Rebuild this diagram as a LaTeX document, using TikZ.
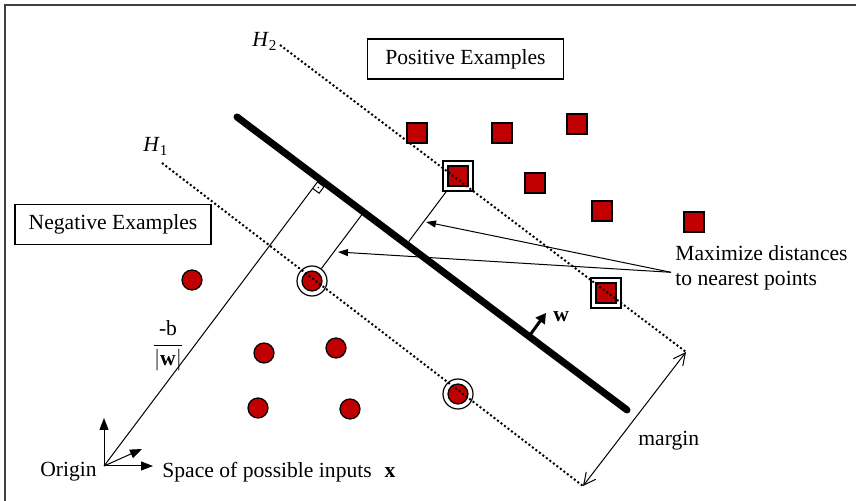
\documentclass[tikz,border=0pt]{standalone}
\usepackage{fontspec}
\setmainfont{Liberation Serif}
\usetikzlibrary{arrows.meta}
\definecolor{ptred}{RGB}{192,0,0}
\begin{document}
\begin{tikzpicture}[x=0.5pt,y=-0.5pt,font=\fontsize{10.8}{12.5}\selectfont,
  possq/.style={draw,fill=ptred,minimum size=10pt,inner sep=0pt,line width=0.6pt},
  negdot/.style={draw,fill=ptred,circle,minimum size=10pt,inner sep=0pt,line width=0.6pt},
  svsq/.style={draw,fill=white,minimum size=15pt,inner sep=0pt,line width=0.6pt},
  svdot/.style={draw,fill=white,circle,minimum size=15pt,inner sep=0pt,line width=0.6pt},
  exbox/.style={draw,line width=0.6pt,minimum width=98pt,minimum height=20pt},
  lab/.style={inner sep=0pt,anchor=base west},
  conn/.style={line width=0.5pt},
  hdots/.style={line width=1pt,dash pattern=on 1pt off 1.2pt},
  tri/.style={conn,-{Triangle[length=6pt,width=4.5pt]}}]
\useasboundingbox (0,0) rectangle (856,501);
\draw[line width=1pt,black!75] (5,501) -- (5,5) -- (856,5);
\node[exbox] (posbox) at (465.5,59) {Positive Examples};
\node[exbox] (negbox) at (113,224.5) {Negative Examples};
\node[lab] (h2lab) at (252,47) {\textit{H}\textsubscript{2}};
\node[lab] (h1lab) at (143,152) {\textit{H}\textsubscript{1}};
\coordinate (hp1) at (237,117);
\coordinate (hp2) at (627,410);
\coordinate (h2s) at (280,45);
\coordinate (h2e) at (686,352);
\coordinate (h1s) at (162,163);
\coordinate (h1e) at (583,486);
\draw[line width=3.5pt,line cap=round] (hp1) -- (hp2);
\foreach \px/\py [count=\i] in {417/133,502/133,577/124,535/183,602/211,694/222}
  \node[possq] (pos\i) at (\px,\py) {};
\foreach \px/\py [count=\i] in {192/280,264/353,336/348,258/408,350/409}
  \node[negdot] (neg\i) at (\px,\py) {};
\node[svsq] (sv1) at (458,176) {};
\node[possq] (sv1in) at (sv1) {};
\node[svsq] (sv2) at (606,293) {};
\node[possq] (sv2in) at (sv2) {};
\node[svdot] (sv3) at (312,281) {};
\node[negdot] (sv3in) at (sv3) {};
\node[svdot] (sv4) at (458,394) {};
\node[negdot] (sv4in) at (sv4) {};
\draw[hdots] (h2s) -- (h2e);
\draw[hdots] (h1s) -- (h1e);
\draw[conn,{Straight Barb[length=6pt,width=6pt]}-{Straight Barb[length=6pt,width=6pt]}] (h1e) -- (h2e);
\node[lab] (marginlab) at (638,446) {margin};
% normals onto the hyperplane
\coordinate (orig) at (104,466);
\coordinate (ft0) at (317.5,182);
\coordinate (ft1) at (361.6,215);
\coordinate (ft2) at (408.7,241.6);
\draw[conn] (orig) -- (ft0);
\draw[conn] (sv3) -- (ft1);
\draw[conn] (sv1) -- (ft2);
\draw[conn] (ft0) -- (323.9,186.8) -- (319.1,193.2) -- (312.7,188.4);
\fill (318.3,187.6) circle (0.4pt);
\node (distlab) at (168,346) {$\displaystyle\frac{\textrm{-b}}{|\textbf{w}|}$};
% w
\coordinate (wb) at (530,335);
\coordinate (wt) at (546,313);
\draw[line width=1.5pt,-{Triangle[length=5pt,width=5.5pt]}] (wb) -- (wt);
\node[lab] (wlab) at (553,322) {\textbf{w}};
% maximize
\node[lab,align=left] (maxlab) at (675,286) {Maximize distances\\to nearest points};
\coordinate (t1) at (426,222);
\coordinate (t2) at (338,252);
\draw[conn,-{Triangle[length=5pt,width=3.5pt]}] ([xshift=-2pt,yshift=-2pt]maxlab.west) -- (t1);
\draw[conn,-{Triangle[length=5pt,width=3.5pt]}] ([xshift=-2pt,yshift=-2pt]maxlab.west) -- (t2);
% axes
\coordinate (axy) at (104,418);
\coordinate (axx) at (153,466);
\coordinate (axd) at (142,449);
\draw[tri] (orig) -- (axy);
\draw[tri] (orig) -- (axx);
\draw[tri] (orig) -- (axd);
\node[lab] (origlab) at (40,477) {Origin};
\node[lab] (spacelab) at (162,478) {Space of possible inputs\hspace{0.6em}\textbf{x}};
\end{tikzpicture}
\end{document}
